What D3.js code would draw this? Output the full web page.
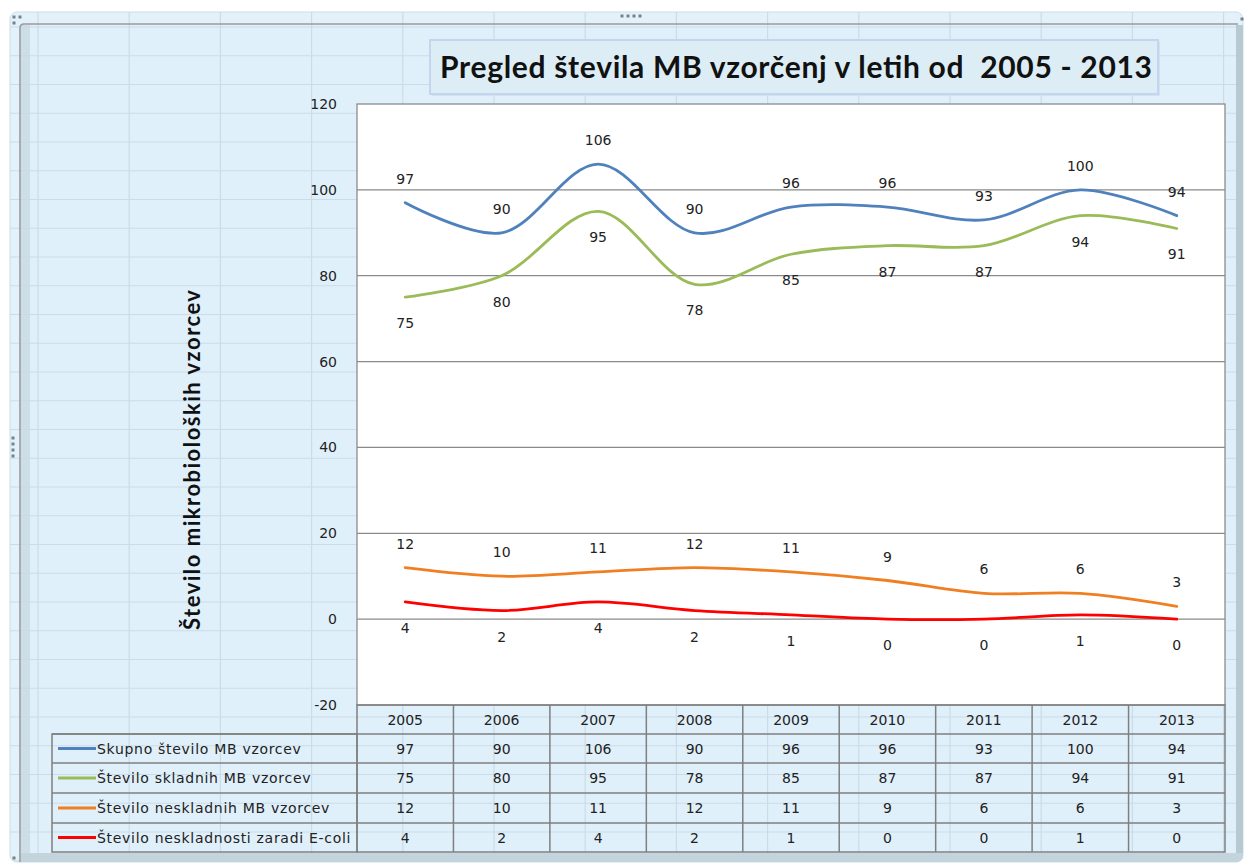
<!DOCTYPE html>
<html>
<head>
<meta charset="utf-8">
<script src="https://cdn.jsdelivr.net/npm/d3@7"></script>
<style>
  html, body { margin: 0; padding: 0; background: #fff; }
  svg { display: block; }
  .num { font-family: "DejaVu Sans", Verdana, sans-serif; font-size: 14px; fill: #222; }
</style>
</head>
<body>
<svg id="chart" width="1247" height="865"></svg>
<script>
const years   = ['2005','2006','2007','2008','2009','2010','2011','2012','2013'];
const skupno  = [97, 90, 106, 90, 96, 96, 93, 100, 94];
const skladni = [75, 80, 95, 78, 85, 87, 87, 94, 91];
const neskl   = [12, 10, 11, 12, 11, 9, 6, 6, 3];
const ecoli   = [4, 2, 4, 2, 1, 0, 0, 1, 0];
const yTicks  = [-20, 0, 20, 40, 60, 80, 100, 120];

const seriesNames  = ['Skupno število MB vzorcev', 'Število skladnih MB vzorcev',
                      'Število neskladnih MB vzorcev', 'Število neskladnosti zaradi E-coli'];
const seriesColors = ['#4f81bd', '#9bbb59', '#f07f22', '#ff0000'];
const labelAbove   = [true, false, true, false];

const series = [skupno, skladni, neskl, ecoli].map((values, i) => ({
  name: seriesNames[i], color: seriesColors[i], above: labelAbove[i], values
}));

const svg = d3.select('#chart');

// plot + table geometry
const plot = { left: 357, right: 1225, top: 104, bottom: 705 };
const rowH = [29, 29, 30, 30, 29];
const legendLeft = 52;

// ---- Excel chart frame ----
svg.append('rect').attr('x', 10).attr('y', 12).attr('width', 1233).attr('height', 850)
  .attr('rx', 7).attr('fill', '#e3f2fa').attr('stroke', '#c8dfe9');

const clip = svg.append('clipPath').attr('id', 'frameclip');
clip.append('rect').attr('x', 10).attr('y', 12).attr('width', 1233).attr('height', 850).attr('rx', 7);

// spreadsheet cells showing through the chart area
const sheet = svg.append('g').attr('clip-path', 'url(#frameclip)');
sheet.append('rect').attr('x', 20).attr('y', 24).attr('width', 1216).attr('height', 829).attr('fill', '#e0f0fb');
sheet.selectAll('line.cv').data(d3.range(14)).join('line')
  .attr('x1', k => 38 + k * 91.2).attr('x2', k => 38 + k * 91.2)
  .attr('y1', 12).attr('y2', 862).attr('stroke', '#cbdce6').attr('stroke-width', 1.2);
sheet.selectAll('line.ch').data(d3.range(-1, 30)).join('line')
  .attr('y1', k => 27 + k * 28.75).attr('y2', k => 27 + k * 28.75)
  .attr('x1', 10).attr('x2', 1243).attr('stroke', '#cbdce6').attr('stroke-width', 1.2);

// shading along the inner border
sheet.append('rect').attr('x', 21).attr('y', 25).attr('width', 9).attr('height', 837).attr('fill', '#c7d9e3').attr('opacity', 0.8);
sheet.append('rect').attr('x', 1236).attr('y', 25).attr('width', 11).attr('height', 837).attr('fill', '#b7c9d1');
sheet.append('rect').attr('x', 21).attr('y', 853).attr('width', 1226).attr('height', 9).attr('fill', '#c4d4dc');
svg.append('path').attr('d', 'M20,862 V28 Q20,24 24,24 H1238')
  .attr('fill', 'none').attr('stroke', '#9b9b9b').attr('stroke-width', 1.6);

// selection handles
const handles = [[14, 17], [20, 17], [14, 23], [622, 16], [628, 16], [634, 16], [640, 16],
                 [13, 438], [13, 444], [13, 450], [13, 456], [1242, 19], [14, 858]];
svg.selectAll('rect.h').data(handles).join('rect')
  .attr('x', d => d[0] - 1.5).attr('y', d => d[1] - 1.5).attr('width', 3).attr('height', 3)
  .attr('fill', '#7a8288');

// ---- title ----
svg.append('rect').attr('x', 432).attr('y', 42).attr('width', 728).attr('height', 54)
  .attr('fill', '#c9dcee').attr('opacity', 0.7);
svg.append('rect').attr('x', 430).attr('y', 40).attr('width', 728).attr('height', 54)
  .attr('fill', '#dcedf6').attr('stroke', '#c4d6ee').attr('stroke-width', 2);
svg.append('text').attr('x', 440).attr('y', 78)
  .style('font-family', 'Lato, "Open Sans", sans-serif').style('font-weight', 700)
  .style('font-size', '30px').attr('fill', '#111')
  .attr('xml:space', 'preserve')
  .attr('textLength', 712).attr('lengthAdjust', 'spacing')
  .text('Pregled števila MB vzorčenj v letih od  2005 - 2013');

// ---- plot area ----
const x = d3.scaleBand().domain(years).range([plot.left, plot.right]);
const y = d3.scaleLinear().domain([-20, 120]).range([plot.bottom, plot.top]);
const cx = d => x(d) + x.bandwidth() / 2;

svg.append('rect').attr('x', plot.left).attr('y', plot.top)
  .attr('width', plot.right - plot.left).attr('height', plot.bottom - plot.top)
  .attr('fill', '#fff').attr('stroke', '#8c8c8c').attr('stroke-width', 1.3);

svg.append('g').selectAll('line').data(yTicks.filter(t => t > -20 && t < 120)).join('line')
  .attr('x1', plot.left).attr('x2', plot.right)
  .attr('y1', d => y(d)).attr('y2', d => y(d))
  .attr('stroke', '#8a8a8a').attr('stroke-width', 1.2);

const yAxis = svg.append('g').attr('transform', `translate(${plot.left},0)`)
  .call(d3.axisLeft(y).tickValues(yTicks).tickFormat(d => String(d)).tickSize(0).tickPadding(20));
yAxis.select('.domain').remove();
yAxis.selectAll('text').attr('fill', '#222')
  .style('font-family', '"DejaVu Sans", Verdana, sans-serif').style('font-size', '14px');

svg.append('text')
  .attr('transform', 'translate(200,460) rotate(-90)')
  .attr('text-anchor', 'middle')
  .style('font-family', 'Lato, "Open Sans", sans-serif').style('font-weight', 700)
  .style('font-size', '22px').attr('fill', '#111')
  .attr('textLength', 340).attr('lengthAdjust', 'spacing')
  .text('Število mikrobioloških vzorcev');

// ---- lines ----
const line = d3.line()
  .x((v, i) => cx(years[i]))
  .y(v => y(v))
  .curve(d3.curveCatmullRom.alpha(0.5));

svg.append('g').selectAll('path').data(series).join('path')
  .attr('d', s => line(s.values))
  .attr('fill', 'none').attr('stroke', s => s.color).attr('stroke-width', 2.8)
  .attr('stroke-linecap', 'round');

// data labels
series.forEach(s => {
  svg.append('g').selectAll('text').data(s.values).join('text')
    .attr('class', 'num')
    .attr('x', (v, i) => cx(years[i]))
    .attr('y', v => y(v) + (s.above ? -19 : 31))
    .attr('text-anchor', 'middle')
    .text(v => v);
});

// ---- data table ----
const rowTop = d3.cumsum([0, ...rowH]).map(v => plot.bottom + v);
const tbl = svg.append('g');
const gridStroke = '#7f7f7f';

// header row of years
tbl.selectAll('text.yr').data(years).join('text')
  .attr('class', 'num').attr('x', d => cx(d)).attr('y', rowTop[0] + 20)
  .attr('text-anchor', 'middle').text(d => d);

series.forEach((s, r) => {
  const yy = rowTop[r + 1] + rowH[r + 1] / 2 + 5;
  tbl.append('g').selectAll('text').data(s.values).join('text')
    .attr('class', 'num').attr('x', (v, i) => cx(years[i])).attr('y', yy)
    .attr('text-anchor', 'middle').text(v => v);
  tbl.append('line')
    .attr('x1', legendLeft + 6).attr('x2', legendLeft + 44)
    .attr('y1', yy - 5).attr('y2', yy - 5)
    .attr('stroke', s.color).attr('stroke-width', 3);
  tbl.append('text').attr('class', 'num').attr('x', legendLeft + 45).attr('y', yy)
    .style('letter-spacing', '0.7px')
    .text(s.name);
});

// table borders
tbl.append('rect').attr('x', plot.left).attr('y', rowTop[0])
  .attr('width', plot.right - plot.left).attr('height', rowTop[5] - rowTop[0])
  .attr('fill', 'none').attr('stroke', gridStroke).attr('stroke-width', 1.5);
tbl.append('rect').attr('x', legendLeft).attr('y', rowTop[1])
  .attr('width', plot.left - legendLeft).attr('height', rowTop[5] - rowTop[1])
  .attr('fill', 'none').attr('stroke', gridStroke).attr('stroke-width', 1.5);
tbl.selectAll('line.rh').data(rowTop.slice(1, 5)).join('line')
  .attr('x1', legendLeft).attr('x2', plot.right).attr('y1', d => d).attr('y2', d => d)
  .attr('stroke', gridStroke).attr('stroke-width', 1.5);
tbl.selectAll('line.cvl').data(years.slice(1)).join('line')
  .attr('x1', d => x(d)).attr('x2', d => x(d))
  .attr('y1', rowTop[0]).attr('y2', rowTop[5])
  .attr('stroke', gridStroke).attr('stroke-width', 1.5);
</script>
</body>
</html>
